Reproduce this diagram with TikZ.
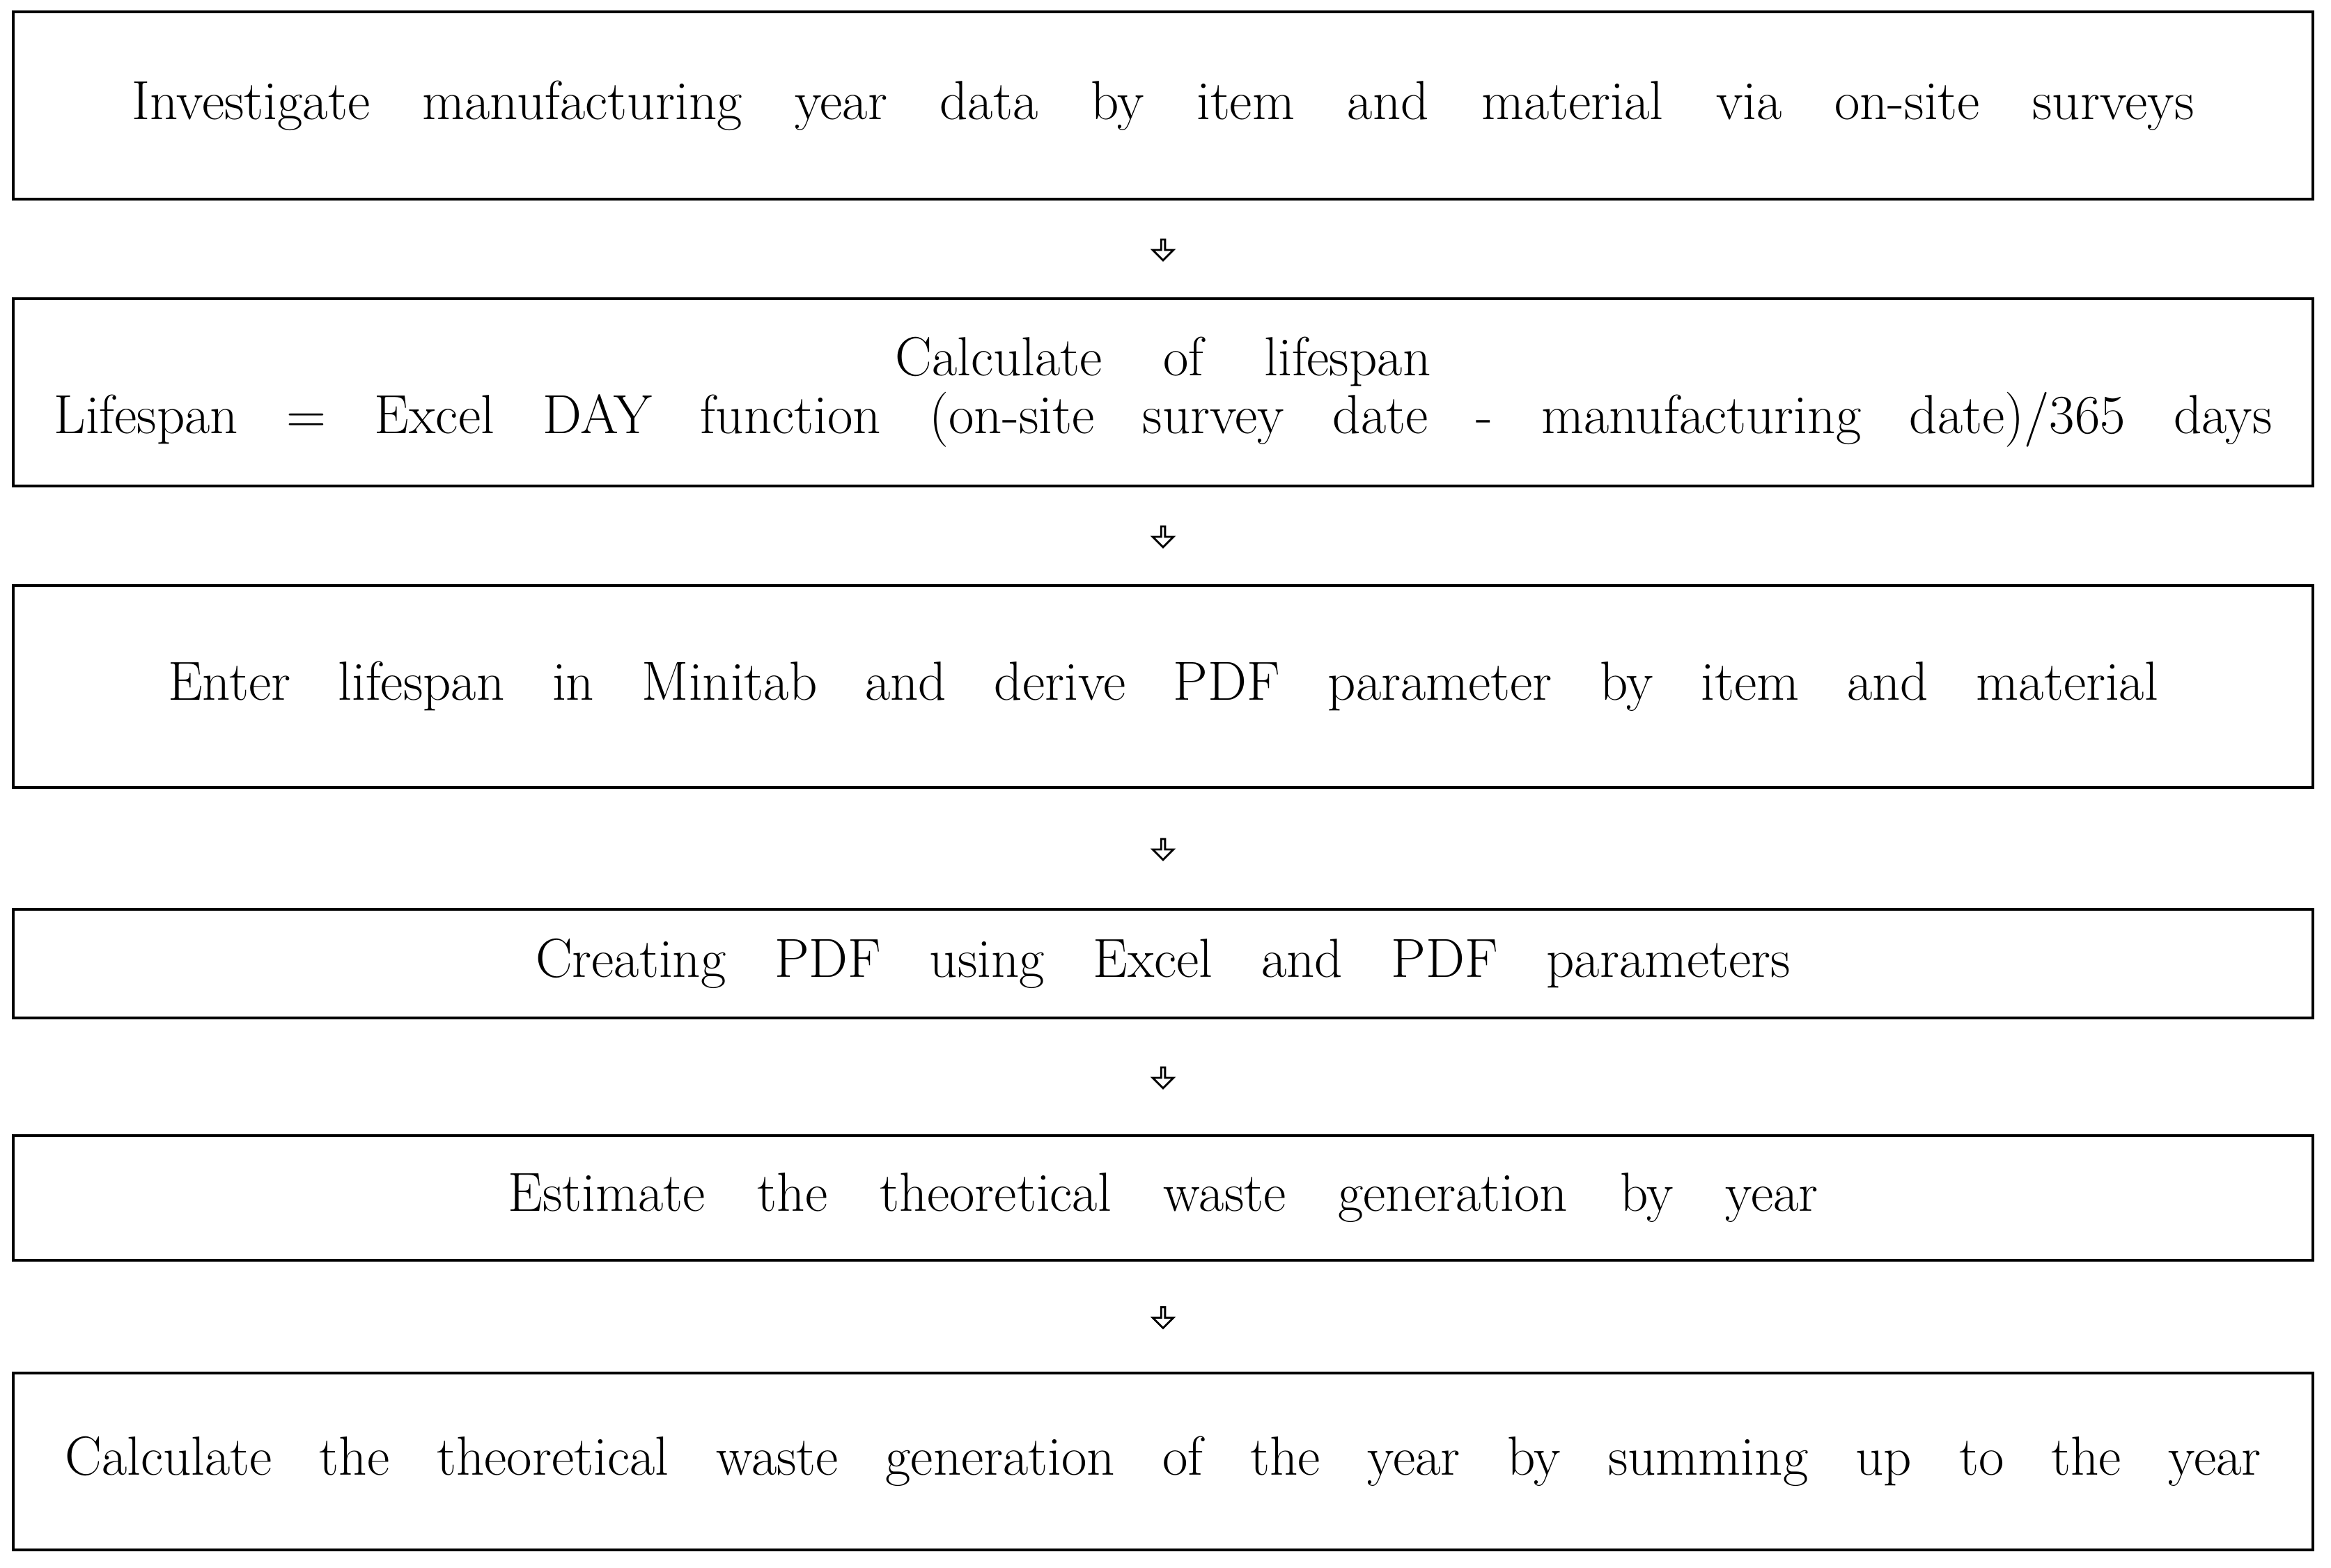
\documentclass[tikz,border=0pt]{standalone}
\usepackage{tikz}
\usetikzlibrary{positioning,calc,shapes.arrows}

% stretch the word spaces of one line to a given width
\newcommand{\spreadline}[2]{\makebox[#1][s]{#2}}

\begin{document}
\begin{tikzpicture}[
    stepbox/.style={
        rectangle,
        minimum width=33.02cm,
        draw=black,
        line width=1.4pt,
        inner sep=0pt,
        align=center,
        font=\fontsize{22.5}{23.6}\selectfont
    },
    downarrow/.style={
        single arrow,
        draw=black,
        line width=0.8pt,
        fill=white,
        minimum height=0.3cm,
        minimum width=0.3cm,
        single arrow head extend=0.06cm,
        shape border rotate=270,
        inner sep=0pt
    }
]
\useasboundingbox (0,0) rectangle (33.47,-22.52);

% Survey
\node[stepbox, minimum height=2.69cm] (survey) at (16.70,-1.515)
    {\spreadline{29.61cm}{Investigate manufacturing year data by item and material via on-site surveys}};

% Lifespan
\node[stepbox, minimum height=2.69cm] (lifespan) at (16.70,-5.635)
    {\spreadline{7.69cm}{Calculate of lifespan}\\
     \spreadline{31.85cm}{Lifespan = Excel DAY function (on-site survey date - manufacturing date)/365 days}};

% Minitab
\node[stepbox, minimum height=2.90cm] (minitab) at (16.70,-9.86)
    {\spreadline{28.58cm}{Enter lifespan in Minitab and derive PDF parameter by item and material}};

% PDF
\node[stepbox, minimum height=1.56cm] (pdf) at (16.70,-13.84)
    {\spreadline{18.02cm}{Creating PDF using Excel and PDF parameters}};

% Estimate
\node[stepbox, minimum height=1.79cm] (estimate) at (16.70,-17.205)
    {\spreadline{18.81cm}{Estimate the theoretical waste generation by year}};

% Sum
\node[stepbox, minimum height=2.54cm] (summing) at (16.70,-20.99)
    {\spreadline{31.53cm}{Calculate the theoretical waste generation of the year by summing up to the year}};

% Arrows
\node[downarrow] (a1) at ($(survey.south)!0.5!(lifespan.north)$) {};
\node[downarrow] (a2) at ($(lifespan.south)!0.5!(minitab.north)$) {};
\node[downarrow] (a3) at ($(minitab.south)!0.5!(pdf.north)$) {};
\node[downarrow] (a4) at ($(pdf.south)!0.5!(estimate.north)$) {};
\node[downarrow] (a5) at ($(estimate.south)!0.5!(summing.north)$) {};

\end{tikzpicture}
\end{document}
